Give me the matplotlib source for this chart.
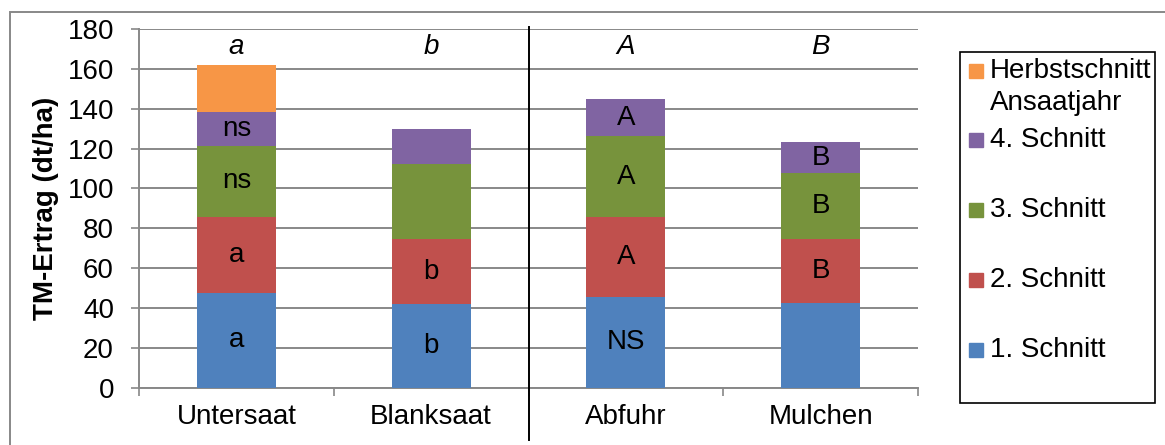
import numpy as np
import matplotlib.pyplot as plt
from matplotlib.patches import Rectangle
from matplotlib.lines import Line2D
import matplotlib.transforms as mtransforms

plt.rcParams['font.family'] = ['Liberation Sans', 'DejaVu Sans']

# Daten
varianten = ['Untersaat', 'Blanksaat', 'Abfuhr', 'Mulchen']
schnitt1 = [47.4, 41.8, 45.4, 42.7]
schnitt2 = [38.4, 32.7, 40.4, 31.8]
schnitt3 = [35.6, 37.6, 40.3, 33.1]
schnitt4 = [16.9, 17.9, 18.8, 15.7]
herbst = [23.5, 0.0, 0.0, 0.0]

# Signifikanzbuchstaben je Schnitt (leer = keiner)
buchst1 = ['a', 'b', 'NS', '']
buchst2 = ['a', 'b', 'A', 'B']
buchst3 = ['ns', '', 'A', 'B']
buchst4 = ['ns', '', 'A', 'B']
buchst_gesamt = ['a', 'b', 'A', 'B']

serien = [schnitt1, schnitt2, schnitt3, schnitt4, herbst]
buchst = [buchst1, buchst2, buchst3, buchst4, None]
namen = ['1. Schnitt', '2. Schnitt', '3. Schnitt', '4. Schnitt',
         'Herbstschnitt\nAnsaatjahr']
farben = ['#4F81BD', '#C0504D', '#77933C', '#8064A2', '#F79646']

FS = 20
W, H = 1165, 445
fig = plt.figure(figsize=(W / 100, H / 100), dpi=100)
ax = fig.add_axes([139 / W, 1 - 387.7 / H, (918 - 139) / W, (387.7 - 29) / H])

x = np.arange(len(varianten))
unten = np.zeros(len(varianten))
for werte, b, farbe in zip(serien, buchst, farben):
    werte = np.array(werte)
    ax.bar(x, werte, 0.405, bottom=unten, color=farbe, zorder=3)
    if b is not None:
        for i in range(len(x)):
            if b[i]:
                ax.text(x[i], unten[i] + werte[i] / 2, b[i], ha='center',
                        va='center', fontsize=FS, zorder=4)
    unten = unten + werte

for i in range(len(x)):
    ax.text(x[i], 171, buchst_gesamt[i], ha='center', va='center',
            fontsize=FS, style='italic')

ax.set_xlim(-0.5, 3.5)
ax.set_ylim(0, 180)
ax.set_yticks(np.arange(0, 181, 20))
ax.set_xticks(x)
ax.set_xticklabels(varianten)
ax.set_xticks([-0.5, 0.5, 1.5, 2.5, 3.5], minor=True)
ax.tick_params(axis='x', which='major', length=0, pad=12, labelsize=FS)
ax.tick_params(axis='x', which='minor', length=6, width=1.2, color='#888888', direction='out')
ax.tick_params(axis='y', length=6, width=1.2, color='#888888', labelsize=FS, pad=12)
ax.grid(axis='y', color='#888888', linewidth=1.4, zorder=0)
for s in ['top', 'right']:
    ax.spines[s].set_visible(False)
for s in ['left', 'bottom']:
    ax.spines[s].set_color('#888888')
    ax.spines[s].set_linewidth(1.4)
ax.set_ylabel('TM-Ertrag (dt/ha)', fontsize=FS, fontweight='bold', labelpad=6)

# Trennlinie zwischen den beiden Versuchsfaktoren
trans = mtransforms.blended_transform_factory(ax.transData, ax.transAxes)
ax.add_line(Line2D([1.5, 1.5], [1.006, -0.146], transform=trans, color='black',
                   linewidth=1.4, clip_on=False, zorder=5))

# Rahmen um das Diagramm
fig.patches.append(Rectangle((9.5 / W, -0.1), 1.2, 1 - 12 / H + 0.1, transform=fig.transFigure,
                             fill=False, edgecolor='#888888', linewidth=1.4))

# Legende
fig.patches.append(Rectangle((960 / W, 1 - 403 / H), 195 / W, 351 / H, transform=fig.transFigure,
                             fill=False, edgecolor='black', linewidth=1.2))
leg_y = [350, 280, 210, 140, 71]
for name, farbe, yy in zip(namen, farben, leg_y):
    fig.patches.append(Rectangle((969 / W, 1 - (yy + 7) / H), 14 / W, 14 / H,
                                 transform=fig.transFigure, color=farbe))
    if '\n' in name:
        zeilen = name.split('\n')
        fig.text(990 / W, 1 - yy / H, zeilen[0], va='center', fontsize=FS)
        fig.text(990 / W, 1 - (yy + 32) / H, zeilen[1], va='center', fontsize=FS)
    else:
        fig.text(990 / W, 1 - yy / H, name, va='center', fontsize=FS)

fig.savefig('out.png', dpi=100)
